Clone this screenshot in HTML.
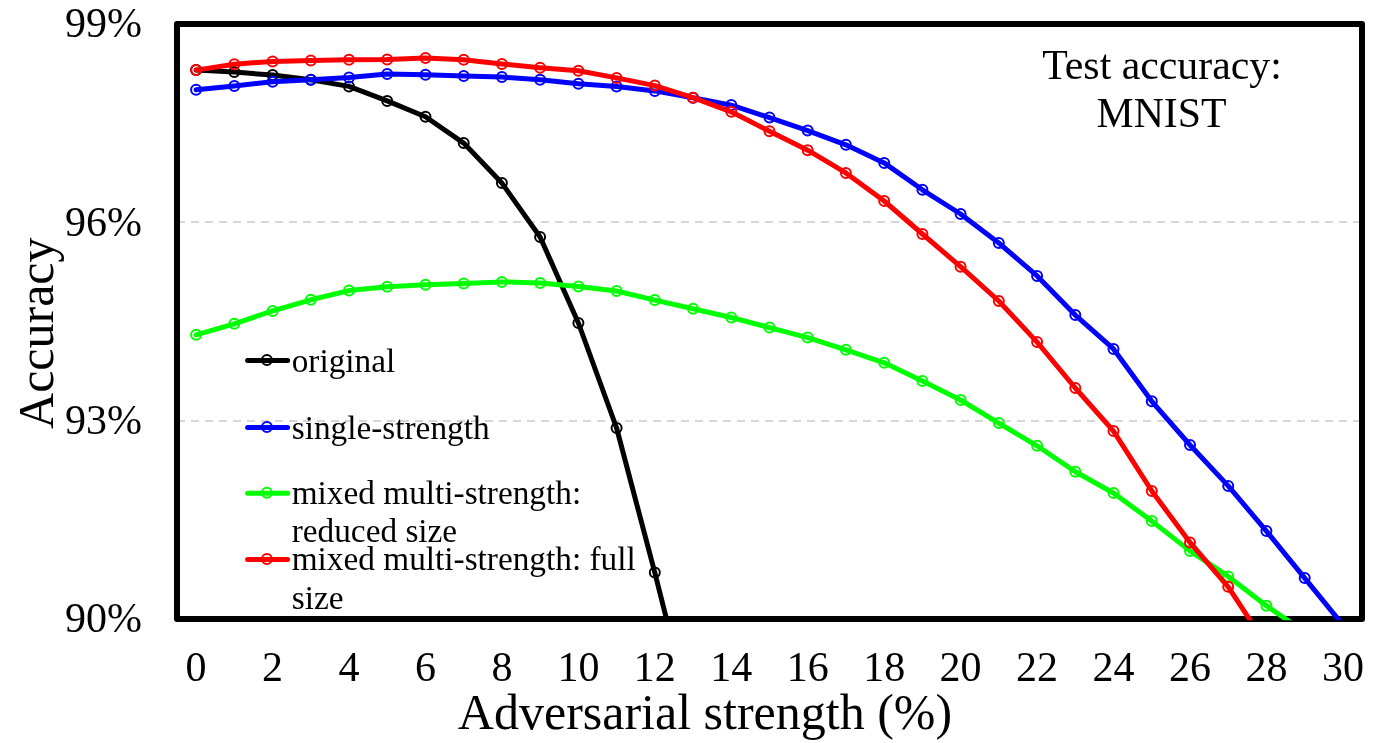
<!DOCTYPE html>
<html>
<head>
<meta charset="utf-8">
<title>Test accuracy: MNIST</title>
<style>
html, body { margin: 0; padding: 0; background: #ffffff; }
body { width: 1383px; height: 743px; overflow: hidden; font-family: "Liberation Serif", serif; }
svg { display: block; will-change: transform; }
text { font-family: "Liberation Serif", serif; fill: #000000; }
.tick { font-size: 42px; }
.axt { font-size: 50px; }
.leg { font-size: 33.3px; }
.ct { font-size: 41.8px; }
</style>
</head>
<body>
<svg width="1383" height="743" viewBox="0 0 1383 743">
<defs>
<clipPath id="plotclip"><rect x="174" y="21" width="1191" height="599.3"/></clipPath>
</defs>
<rect x="0" y="0" width="1383" height="743" fill="#ffffff"/>

<!-- gridlines -->
<line x1="177" y1="222" x2="1362" y2="222" stroke="#d6d6d6" stroke-width="2" stroke-dasharray="8 6"/>
<line x1="177" y1="421" x2="1362" y2="421" stroke="#d6d6d6" stroke-width="2" stroke-dasharray="8 6"/>

<!-- plot frame -->
<rect x="177" y="24" width="1185" height="595" fill="none" stroke="#000000" stroke-width="6" stroke-linejoin="round"/>

<!-- data series -->
<g clip-path="url(#plotclip)">
<polyline points="196.1,70.1 234.3,72.1 272.6,75.1 310.8,79.7 349.0,86.4 387.2,100.9 425.5,116.8 463.7,143.1 501.9,183.1 540.1,237.0 578.4,323.0 616.6,428.0 654.8,572.6 693.0,724.0" fill="none" stroke="#000000" stroke-width="5.0" stroke-linejoin="round" stroke-linecap="round"/>
<circle cx="196.1" cy="70.1" r="5.0" fill="none" stroke="#000000" stroke-width="2.0"/>
<circle cx="234.3" cy="72.1" r="5.0" fill="none" stroke="#000000" stroke-width="2.0"/>
<circle cx="272.6" cy="75.1" r="5.0" fill="none" stroke="#000000" stroke-width="2.0"/>
<circle cx="310.8" cy="79.7" r="5.0" fill="none" stroke="#000000" stroke-width="2.0"/>
<circle cx="349.0" cy="86.4" r="5.0" fill="none" stroke="#000000" stroke-width="2.0"/>
<circle cx="387.2" cy="100.9" r="5.0" fill="none" stroke="#000000" stroke-width="2.0"/>
<circle cx="425.5" cy="116.8" r="5.0" fill="none" stroke="#000000" stroke-width="2.0"/>
<circle cx="463.7" cy="143.1" r="5.0" fill="none" stroke="#000000" stroke-width="2.0"/>
<circle cx="501.9" cy="183.1" r="5.0" fill="none" stroke="#000000" stroke-width="2.0"/>
<circle cx="540.1" cy="237.0" r="5.0" fill="none" stroke="#000000" stroke-width="2.0"/>
<circle cx="578.4" cy="323.0" r="5.0" fill="none" stroke="#000000" stroke-width="2.0"/>
<circle cx="616.6" cy="428.0" r="5.0" fill="none" stroke="#000000" stroke-width="2.0"/>
<circle cx="654.8" cy="572.6" r="5.0" fill="none" stroke="#000000" stroke-width="2.0"/>
<polyline points="196.1,89.8 234.3,85.9 272.6,81.7 310.8,79.7 349.0,77.6 387.2,73.9 425.5,74.7 463.7,75.9 501.9,77.1 540.1,79.7 578.4,83.8 616.6,86.4 654.8,90.9 693.0,97.7 731.3,105.1 769.5,117.6 807.7,130.6 845.9,144.8 884.2,162.9 922.4,189.8 960.6,214.0 998.8,243.0 1037.1,275.9 1075.3,315.1 1113.5,348.9 1151.8,401.3 1190.0,445.0 1228.2,485.9 1266.4,531.1 1304.7,578.1 1342.9,625.0" fill="none" stroke="#0000ff" stroke-width="5.0" stroke-linejoin="round" stroke-linecap="round"/>
<circle cx="196.1" cy="89.8" r="5.0" fill="none" stroke="#0000ff" stroke-width="2.0"/>
<circle cx="234.3" cy="85.9" r="5.0" fill="none" stroke="#0000ff" stroke-width="2.0"/>
<circle cx="272.6" cy="81.7" r="5.0" fill="none" stroke="#0000ff" stroke-width="2.0"/>
<circle cx="310.8" cy="79.7" r="5.0" fill="none" stroke="#0000ff" stroke-width="2.0"/>
<circle cx="349.0" cy="77.6" r="5.0" fill="none" stroke="#0000ff" stroke-width="2.0"/>
<circle cx="387.2" cy="73.9" r="5.0" fill="none" stroke="#0000ff" stroke-width="2.0"/>
<circle cx="425.5" cy="74.7" r="5.0" fill="none" stroke="#0000ff" stroke-width="2.0"/>
<circle cx="463.7" cy="75.9" r="5.0" fill="none" stroke="#0000ff" stroke-width="2.0"/>
<circle cx="501.9" cy="77.1" r="5.0" fill="none" stroke="#0000ff" stroke-width="2.0"/>
<circle cx="540.1" cy="79.7" r="5.0" fill="none" stroke="#0000ff" stroke-width="2.0"/>
<circle cx="578.4" cy="83.8" r="5.0" fill="none" stroke="#0000ff" stroke-width="2.0"/>
<circle cx="616.6" cy="86.4" r="5.0" fill="none" stroke="#0000ff" stroke-width="2.0"/>
<circle cx="654.8" cy="90.9" r="5.0" fill="none" stroke="#0000ff" stroke-width="2.0"/>
<circle cx="693.0" cy="97.7" r="5.0" fill="none" stroke="#0000ff" stroke-width="2.0"/>
<circle cx="731.3" cy="105.1" r="5.0" fill="none" stroke="#0000ff" stroke-width="2.0"/>
<circle cx="769.5" cy="117.6" r="5.0" fill="none" stroke="#0000ff" stroke-width="2.0"/>
<circle cx="807.7" cy="130.6" r="5.0" fill="none" stroke="#0000ff" stroke-width="2.0"/>
<circle cx="845.9" cy="144.8" r="5.0" fill="none" stroke="#0000ff" stroke-width="2.0"/>
<circle cx="884.2" cy="162.9" r="5.0" fill="none" stroke="#0000ff" stroke-width="2.0"/>
<circle cx="922.4" cy="189.8" r="5.0" fill="none" stroke="#0000ff" stroke-width="2.0"/>
<circle cx="960.6" cy="214.0" r="5.0" fill="none" stroke="#0000ff" stroke-width="2.0"/>
<circle cx="998.8" cy="243.0" r="5.0" fill="none" stroke="#0000ff" stroke-width="2.0"/>
<circle cx="1037.1" cy="275.9" r="5.0" fill="none" stroke="#0000ff" stroke-width="2.0"/>
<circle cx="1075.3" cy="315.1" r="5.0" fill="none" stroke="#0000ff" stroke-width="2.0"/>
<circle cx="1113.5" cy="348.9" r="5.0" fill="none" stroke="#0000ff" stroke-width="2.0"/>
<circle cx="1151.8" cy="401.3" r="5.0" fill="none" stroke="#0000ff" stroke-width="2.0"/>
<circle cx="1190.0" cy="445.0" r="5.0" fill="none" stroke="#0000ff" stroke-width="2.0"/>
<circle cx="1228.2" cy="485.9" r="5.0" fill="none" stroke="#0000ff" stroke-width="2.0"/>
<circle cx="1266.4" cy="531.1" r="5.0" fill="none" stroke="#0000ff" stroke-width="2.0"/>
<circle cx="1304.7" cy="578.1" r="5.0" fill="none" stroke="#0000ff" stroke-width="2.0"/>
<polyline points="196.1,334.8 234.3,323.8 272.6,310.9 310.8,299.8 349.0,290.6 387.2,286.7 425.5,284.8 463.7,283.6 501.9,281.9 540.1,282.9 578.4,286.6 616.6,291.0 654.8,300.1 693.0,308.8 731.3,317.5 769.5,327.6 807.7,337.6 845.9,349.8 884.2,362.8 922.4,381.0 960.6,400.0 998.8,423.1 1037.1,445.8 1075.3,471.8 1113.5,493.0 1151.8,521.1 1190.0,550.9 1228.2,576.4 1266.4,605.7 1304.7,632.0" fill="none" stroke="#00ff00" stroke-width="5.0" stroke-linejoin="round" stroke-linecap="round"/>
<circle cx="196.1" cy="334.8" r="5.0" fill="none" stroke="#00ff00" stroke-width="2.0"/>
<circle cx="234.3" cy="323.8" r="5.0" fill="none" stroke="#00ff00" stroke-width="2.0"/>
<circle cx="272.6" cy="310.9" r="5.0" fill="none" stroke="#00ff00" stroke-width="2.0"/>
<circle cx="310.8" cy="299.8" r="5.0" fill="none" stroke="#00ff00" stroke-width="2.0"/>
<circle cx="349.0" cy="290.6" r="5.0" fill="none" stroke="#00ff00" stroke-width="2.0"/>
<circle cx="387.2" cy="286.7" r="5.0" fill="none" stroke="#00ff00" stroke-width="2.0"/>
<circle cx="425.5" cy="284.8" r="5.0" fill="none" stroke="#00ff00" stroke-width="2.0"/>
<circle cx="463.7" cy="283.6" r="5.0" fill="none" stroke="#00ff00" stroke-width="2.0"/>
<circle cx="501.9" cy="281.9" r="5.0" fill="none" stroke="#00ff00" stroke-width="2.0"/>
<circle cx="540.1" cy="282.9" r="5.0" fill="none" stroke="#00ff00" stroke-width="2.0"/>
<circle cx="578.4" cy="286.6" r="5.0" fill="none" stroke="#00ff00" stroke-width="2.0"/>
<circle cx="616.6" cy="291.0" r="5.0" fill="none" stroke="#00ff00" stroke-width="2.0"/>
<circle cx="654.8" cy="300.1" r="5.0" fill="none" stroke="#00ff00" stroke-width="2.0"/>
<circle cx="693.0" cy="308.8" r="5.0" fill="none" stroke="#00ff00" stroke-width="2.0"/>
<circle cx="731.3" cy="317.5" r="5.0" fill="none" stroke="#00ff00" stroke-width="2.0"/>
<circle cx="769.5" cy="327.6" r="5.0" fill="none" stroke="#00ff00" stroke-width="2.0"/>
<circle cx="807.7" cy="337.6" r="5.0" fill="none" stroke="#00ff00" stroke-width="2.0"/>
<circle cx="845.9" cy="349.8" r="5.0" fill="none" stroke="#00ff00" stroke-width="2.0"/>
<circle cx="884.2" cy="362.8" r="5.0" fill="none" stroke="#00ff00" stroke-width="2.0"/>
<circle cx="922.4" cy="381.0" r="5.0" fill="none" stroke="#00ff00" stroke-width="2.0"/>
<circle cx="960.6" cy="400.0" r="5.0" fill="none" stroke="#00ff00" stroke-width="2.0"/>
<circle cx="998.8" cy="423.1" r="5.0" fill="none" stroke="#00ff00" stroke-width="2.0"/>
<circle cx="1037.1" cy="445.8" r="5.0" fill="none" stroke="#00ff00" stroke-width="2.0"/>
<circle cx="1075.3" cy="471.8" r="5.0" fill="none" stroke="#00ff00" stroke-width="2.0"/>
<circle cx="1113.5" cy="493.0" r="5.0" fill="none" stroke="#00ff00" stroke-width="2.0"/>
<circle cx="1151.8" cy="521.1" r="5.0" fill="none" stroke="#00ff00" stroke-width="2.0"/>
<circle cx="1190.0" cy="550.9" r="5.0" fill="none" stroke="#00ff00" stroke-width="2.0"/>
<circle cx="1228.2" cy="576.4" r="5.0" fill="none" stroke="#00ff00" stroke-width="2.0"/>
<circle cx="1266.4" cy="605.7" r="5.0" fill="none" stroke="#00ff00" stroke-width="2.0"/>
<polyline points="196.1,70.1 234.3,64.2 272.6,61.4 310.8,60.5 349.0,59.7 387.2,59.5 425.5,57.9 463.7,59.7 501.9,63.9 540.1,67.7 578.4,70.7 616.6,77.9 654.8,85.6 693.0,97.7 731.3,111.8 769.5,131.3 807.7,150.2 845.9,172.9 884.2,201.0 922.4,234.0 960.6,266.7 998.8,301.0 1037.1,342.1 1075.3,388.0 1113.5,431.1 1151.8,491.0 1190.0,542.5 1228.2,586.8 1266.4,645.0" fill="none" stroke="#ff0000" stroke-width="5.0" stroke-linejoin="round" stroke-linecap="round"/>
<circle cx="196.1" cy="70.1" r="5.0" fill="none" stroke="#ff0000" stroke-width="2.0"/>
<circle cx="234.3" cy="64.2" r="5.0" fill="none" stroke="#ff0000" stroke-width="2.0"/>
<circle cx="272.6" cy="61.4" r="5.0" fill="none" stroke="#ff0000" stroke-width="2.0"/>
<circle cx="310.8" cy="60.5" r="5.0" fill="none" stroke="#ff0000" stroke-width="2.0"/>
<circle cx="349.0" cy="59.7" r="5.0" fill="none" stroke="#ff0000" stroke-width="2.0"/>
<circle cx="387.2" cy="59.5" r="5.0" fill="none" stroke="#ff0000" stroke-width="2.0"/>
<circle cx="425.5" cy="57.9" r="5.0" fill="none" stroke="#ff0000" stroke-width="2.0"/>
<circle cx="463.7" cy="59.7" r="5.0" fill="none" stroke="#ff0000" stroke-width="2.0"/>
<circle cx="501.9" cy="63.9" r="5.0" fill="none" stroke="#ff0000" stroke-width="2.0"/>
<circle cx="540.1" cy="67.7" r="5.0" fill="none" stroke="#ff0000" stroke-width="2.0"/>
<circle cx="578.4" cy="70.7" r="5.0" fill="none" stroke="#ff0000" stroke-width="2.0"/>
<circle cx="616.6" cy="77.9" r="5.0" fill="none" stroke="#ff0000" stroke-width="2.0"/>
<circle cx="654.8" cy="85.6" r="5.0" fill="none" stroke="#ff0000" stroke-width="2.0"/>
<circle cx="693.0" cy="97.7" r="5.0" fill="none" stroke="#ff0000" stroke-width="2.0"/>
<circle cx="731.3" cy="111.8" r="5.0" fill="none" stroke="#ff0000" stroke-width="2.0"/>
<circle cx="769.5" cy="131.3" r="5.0" fill="none" stroke="#ff0000" stroke-width="2.0"/>
<circle cx="807.7" cy="150.2" r="5.0" fill="none" stroke="#ff0000" stroke-width="2.0"/>
<circle cx="845.9" cy="172.9" r="5.0" fill="none" stroke="#ff0000" stroke-width="2.0"/>
<circle cx="884.2" cy="201.0" r="5.0" fill="none" stroke="#ff0000" stroke-width="2.0"/>
<circle cx="922.4" cy="234.0" r="5.0" fill="none" stroke="#ff0000" stroke-width="2.0"/>
<circle cx="960.6" cy="266.7" r="5.0" fill="none" stroke="#ff0000" stroke-width="2.0"/>
<circle cx="998.8" cy="301.0" r="5.0" fill="none" stroke="#ff0000" stroke-width="2.0"/>
<circle cx="1037.1" cy="342.1" r="5.0" fill="none" stroke="#ff0000" stroke-width="2.0"/>
<circle cx="1075.3" cy="388.0" r="5.0" fill="none" stroke="#ff0000" stroke-width="2.0"/>
<circle cx="1113.5" cy="431.1" r="5.0" fill="none" stroke="#ff0000" stroke-width="2.0"/>
<circle cx="1151.8" cy="491.0" r="5.0" fill="none" stroke="#ff0000" stroke-width="2.0"/>
<circle cx="1190.0" cy="542.5" r="5.0" fill="none" stroke="#ff0000" stroke-width="2.0"/>
<circle cx="1228.2" cy="586.8" r="5.0" fill="none" stroke="#ff0000" stroke-width="2.0"/>
</g>

<!-- y tick labels -->
<text class="tick" transform="translate(142 37.2) scale(1 1.0001)" text-anchor="end">99%</text>
<text class="tick" transform="translate(142 235.5) scale(1 1.0001)" text-anchor="end">96%</text>
<text class="tick" transform="translate(142 433.9) scale(1 1.0001)" text-anchor="end">93%</text>
<text class="tick" transform="translate(142 632.2) scale(1 1.0001)" text-anchor="end">90%</text>

<!-- x tick labels -->
<text class="tick" transform="translate(196.1 681) scale(1 1.0001)" text-anchor="middle">0</text>
<text class="tick" transform="translate(272.6 681) scale(1 1.0001)" text-anchor="middle">2</text>
<text class="tick" transform="translate(349.0 681) scale(1 1.0001)" text-anchor="middle">4</text>
<text class="tick" transform="translate(425.5 681) scale(1 1.0001)" text-anchor="middle">6</text>
<text class="tick" transform="translate(501.9 681) scale(1 1.0001)" text-anchor="middle">8</text>
<text class="tick" transform="translate(578.4 681) scale(1 1.0001)" text-anchor="middle">10</text>
<text class="tick" transform="translate(654.8 681) scale(1 1.0001)" text-anchor="middle">12</text>
<text class="tick" transform="translate(731.3 681) scale(1 1.0001)" text-anchor="middle">14</text>
<text class="tick" transform="translate(807.7 681) scale(1 1.0001)" text-anchor="middle">16</text>
<text class="tick" transform="translate(884.2 681) scale(1 1.0001)" text-anchor="middle">18</text>
<text class="tick" transform="translate(960.6 681) scale(1 1.0001)" text-anchor="middle">20</text>
<text class="tick" transform="translate(1037.1 681) scale(1 1.0001)" text-anchor="middle">22</text>
<text class="tick" transform="translate(1113.5 681) scale(1 1.0001)" text-anchor="middle">24</text>
<text class="tick" transform="translate(1190.0 681) scale(1 1.0001)" text-anchor="middle">26</text>
<text class="tick" transform="translate(1266.4 681) scale(1 1.0001)" text-anchor="middle">28</text>
<text class="tick" transform="translate(1342.9 681) scale(1 1.0001)" text-anchor="middle">30</text>

<!-- axis titles -->
<text class="axt" x="705" y="728.5" text-anchor="middle">Adversarial strength (%)</text>
<text class="axt" transform="translate(53.2 333.2) rotate(-90)" text-anchor="middle">Accuracy</text>

<!-- chart title -->
<text class="ct" x="1162" y="78.6" text-anchor="middle">Test accuracy:</text>
<text class="ct" x="1161.5" y="126.8" text-anchor="middle">MNIST</text>

<!-- legend -->
<line x1="247.6" y1="360.5" x2="287.6" y2="360.5" stroke="#000000" stroke-width="5.0" stroke-linecap="round"/><circle cx="266.9" cy="360.0" r="5.0" fill="none" stroke="#000000" stroke-width="2.0"/>
<text class="leg" x="291.7" y="371.8">original</text>
<line x1="247.6" y1="427.5" x2="287.6" y2="427.5" stroke="#0000ff" stroke-width="5.0" stroke-linecap="round"/><circle cx="266.9" cy="427.0" r="5.0" fill="none" stroke="#0000ff" stroke-width="2.0"/>
<text class="leg" x="291.7" y="438.8">single-strength</text>
<line x1="247.6" y1="493.3" x2="287.6" y2="493.3" stroke="#00ff00" stroke-width="5.0" stroke-linecap="round"/><circle cx="266.9" cy="492.8" r="5.0" fill="none" stroke="#00ff00" stroke-width="2.0"/>
<text class="leg" x="291.7" y="503.8">mixed multi-strength:</text>
<text class="leg" x="291.7" y="542">reduced size</text>
<line x1="247.6" y1="559.4" x2="287.6" y2="559.4" stroke="#ff0000" stroke-width="5.0" stroke-linecap="round"/><circle cx="266.9" cy="558.9" r="5.0" fill="none" stroke="#ff0000" stroke-width="2.0"/>
<text class="leg" x="291.7" y="569.8">mixed multi-strength: full</text>
<text class="leg" x="291.7" y="609.4">size</text>
</svg>
</body>
</html>
